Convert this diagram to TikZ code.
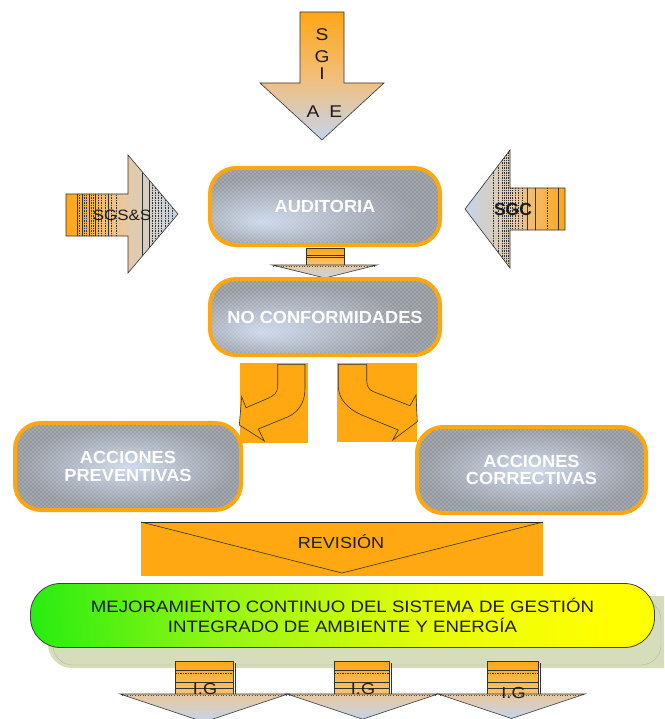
\documentclass[tikz,border=0pt]{standalone}
\usepackage{fontspec}
\setmainfont{Liberation Sans}
% regular labels are set slightly wide
\newfontfamily\widesans[FakeStretch=1.13]{Liberation Sans}
\newfontfamily\boxsans[FakeStretch=1.04]{Liberation Sans}
\usetikzlibrary{patterns}

% palette
\definecolor{boxorange}{RGB}{255,166,17}
\definecolor{blockorange}{RGB}{255,168,18}
\definecolor{arrorange}{RGB}{255,166,22}
\definecolor{arrmid}{RGB}{242,190,120}
\definecolor{arrtan}{RGB}{232,200,158}
\definecolor{arrblue}{RGB}{196,212,236}
\definecolor{shaftlight}{RGB}{246,196,118}
\definecolor{boxgray}{RGB}{146,150,157}
\definecolor{glowblue}{RGB}{204,217,236}
\definecolor{dotc}{RGB}{232,235,240}
\definecolor{bandc}{RGB}{214,221,186}
\definecolor{greenc}{RGB}{30,236,16}
\definecolor{limec}{RGB}{150,246,20}
\definecolor{lemonc}{RGB}{232,252,8}
\definecolor{yellowc}{RGB}{255,255,0}
\definecolor{inkc}{RGB}{28,28,28}

% glow inside the grey boxes
\pgfdeclareradialshading{glowlow}{\pgfpoint{-14bp}{-10bp}}{color(0bp)=(glowblue); color(26bp)=(boxgray); color(50bp)=(boxgray)}
\pgfdeclareradialshading{glowmid}{\pgfpoint{0bp}{0bp}}{color(0bp)=(glowblue); color(24bp)=(boxgray); color(50bp)=(boxgray)}
% green to yellow banner
\pgfdeclarehorizontalshading{mejshade}{100bp}{color(0bp)=(greenc); color(22bp)=(greenc); color(40bp)=(limec); color(58bp)=(lemonc); color(72bp)=(yellowc); color(100bp)=(yellowc)}
% staggered dot texture
\pgfdeclarepatternformonly{softdots}{\pgfpoint{-1pt}{-1pt}}{\pgfpoint{5pt}{5pt}}{\pgfpoint{4pt}{4pt}}{%
  \pgfpathcircle{\pgfpoint{1pt}{1pt}}{0.55pt}%
  \pgfpathcircle{\pgfpoint{3pt}{3pt}}{0.55pt}%
  \pgfusepath{fill}}

\begin{document}
\begin{tikzpicture}[x=1pt, y=-1pt,
  glowbox/.style={rectangle, rounded corners=26pt, draw=boxorange, line width=4pt, inner sep=0pt,
    preaction={shade, shading=#1}, preaction={pattern=softdots, pattern color=dotc},
    text=white, align=center, font=\boxsans\fontsize{17.5}{17.5}\selectfont\bfseries},
  glowbox/.default=glowmid,
  edgeline/.style={draw=black!80, line width=0.6pt},
  stripe/.style={draw=black!80, line width=0.5pt},
  stripedash/.style={stripe, dash pattern=on 1.5pt off 1pt},
  arrowtext/.style={text=inkc, font=\widesans\fontsize{17}{17}\selectfont, inner sep=0pt},
  igtext/.style={text=inkc, font=\widesans\fontsize{16}{16}\selectfont, inner sep=0pt},
]
\clip (0,0) rectangle (664,719);
\fill[white] (0,0) rectangle (664,719);

% ---- SGIAE arrow pointing down
\path[edgeline, top color=arrorange, bottom color=arrblue, middle color=arrmid]
  (300,12) -- (344,12) -- (344,83) -- (384,83) -- (322,140) -- (260,83) -- (300,83) -- cycle;
\node[arrowtext] (lS) at (322,34.5) {S};
\node[arrowtext] (lG) at (322,57) {G};
\node[arrowtext] (lI) at (322,74) {I};
\node[arrowtext] (lAE) at (324.5,111.5) {A\hspace{10pt}E};

% ---- SGS&S arrow pointing right
\path[edgeline, left color=arrorange, right color=arrblue, middle color=arrtan]
  (66,194) -- (128,194) -- (128,155) -- (178,214) -- (128,273) -- (128,236) -- (66,236) -- cycle;
\begin{scope}
  \clip (66,194) -- (128,194) -- (128,155) -- (178,214) -- (128,273) -- (128,236) -- (66,236) -- cycle;
  \foreach \x in {77.5,82.5,89,95,108.5,142,149}
    \draw[stripe] (\x,150) -- (\x,280);
  \foreach \x in {79.5,84.5,86.5,91,93.5,98.5,101.5,105,111.5,116.5,152,155,158,161.5,165,168.5,172}
    \draw[stripedash] (\x,150) -- (\x,280);
\end{scope}
\node[arrowtext, font=\widesans\fontsize{15}{15}\selectfont] (lSGSS) at (122,215) {SGS\&S};

% ---- SGC arrow pointing left
\path[edgeline, left color=arrblue, right color=arrorange, middle color=arrtan]
  (465,209) -- (510,150) -- (510,188) -- (565,188) -- (565,230) -- (510,230) -- (510,268) -- cycle;
\begin{scope}
  \clip (465,209) -- (510,150) -- (510,188) -- (565,188) -- (565,230) -- (510,230) -- (510,268) -- cycle;
  \foreach \x in {527,535,558}
    \draw[stripe] (\x,145) -- (\x,275);
  \foreach \x in {493,498,502,504,506,508,510,512,515,518,522,547}
    \draw[stripedash] (\x,145) -- (\x,275);
\end{scope}
\node[arrowtext, font=\fontsize{17.5}{17.5}\selectfont\bfseries] (lSGC) at (513,209) {SGC};

% ---- small arrow between the two upper boxes
\path[edgeline, top color=arrorange, bottom color=shaftlight] (306,248) rectangle (344,265);
\draw[stripe] (306,255) -- (344,255);
\draw[stripe] (306,257.5) -- (344,257.5);
\path[edgeline, top color=arrtan, bottom color=arrblue] (272,265) -- (377,265) -- (325,278) -- cycle;
\draw[black!70, line width=0.6pt, dotted] (273,266) -- (376,266);

% ---- grey process boxes
\node[glowbox=glowlow, minimum width=230pt, minimum height=77pt] (aud) at (325,206.5) {AUDITORIA};
\node[glowbox=glowlow, minimum width=230pt, minimum height=76pt] (nc) at (325,317) {NO CONFORMIDADES};

% ---- curved arrows towards the actions
\fill[blockorange] (240,363) rectangle (308,443);
\fill[blockorange] (337,363) rectangle (417,442);
\path[edgeline, fill=blockorange]
  (277.7,364.3) -- (277.7,386) .. controls (277.7,393) and (274,395.5) .. (268,398.3)
  -- (246,407.7) -- (241.7,396.7) -- (239.3,425) -- (264.3,441) -- (258.3,429) -- (288.3,416.7)
  .. controls (300,411) and (305,401) .. (305,388) -- (305,364.3) -- cycle;
\path[edgeline, fill=blockorange]
  (338.3,364.3) -- (338.3,386) .. controls (338.3,399) and (348,409) .. (361.7,415)
  -- (398.3,430) -- (392.7,440) -- (417.3,421.7) -- (416,395) -- (410,405.7) -- (373,391.5)
  .. controls (368.5,389.5) and (366.7,386) .. (366.7,380) -- (366.7,364.3) -- cycle;

\node[glowbox, minimum width=226pt, minimum height=87pt] (prev) at (128,466.5) {ACCIONES\\PREVENTIVAS};
\node[glowbox, minimum width=229pt, minimum height=86pt] (corr) at (531.5,470) {ACCIONES\\CORRECTIVAS};

% ---- review banner
\fill[blockorange] (141,522) rectangle (543,576);
\draw[black!85, line width=0.9pt] (141,522) -- (543,522);
\draw[edgeline] (141,522) -- (342,573) -- (543,522);
\node[text=inkc, font=\widesans\fontsize{16}{16}\selectfont, inner sep=0pt] (rev) at (341,542) {REVISIÓN};

% ---- shadow band and continuous improvement banner
\fill[bandc, rounded corners=24pt] (48,596) rectangle (700,668);
\draw[black!30, line width=0.4pt, rounded corners=20pt] (53,600) rectangle (661,665);
\node[rounded corners=30pt, draw=black!75, line width=0.8pt, minimum width=624pt, minimum height=64pt,
  shade, shading=mejshade, shading angle=4, align=center, text=inkc,
  font=\widesans\fontsize{16.5}{20}\selectfont, inner sep=0pt]
  (mej) at (342.5,615.5) {MEJORAMIENTO CONTINUO DEL SISTEMA DE GESTIÓN\\INTEGRADO DE AMBIENTE Y ENERGÍA};

% ---- I.G arrows along the bottom
\foreach \sl/\sr/\hl/\hr/\ly/\nm in {175/233/120/288/689/igA, 334.5/389.5/287/438/689/igB, 487/538/438/585/693/igC} {
  \pgfmathsetmacro{\tipx}{(\hl+\hr)/2}
  \pgfmathsetmacro{\tipy}{694+(\hr-\hl)/6}
  \path[edgeline, top color=arrorange, bottom color=shaftlight] (\sl,661) rectangle (\sr,694);
  \draw[stripe] (\sl,670) -- (\sr,670);
  \draw[stripedash] (\sl,673) -- (\sr,673);
  \draw[stripe] (\sl,682) -- (\sr,682);
  \draw[stripe] (\sl,688) -- (\sr,688);
  \draw[stripe] (\sr+2,663) -- (\sr+2,694);
  \path[edgeline, top color=arrtan, bottom color=arrblue] (\hl,694) -- (\hr,694) -- (\tipx,\tipy) -- cycle;
  \draw[black!70, line width=0.6pt, dotted] (\hl+2,695) -- (\hr-2,695);
  \node[igtext] (\nm) at ({(\sl+\sr)/2+1},\ly) {I.G};
}
\end{tikzpicture}
\end{document}
